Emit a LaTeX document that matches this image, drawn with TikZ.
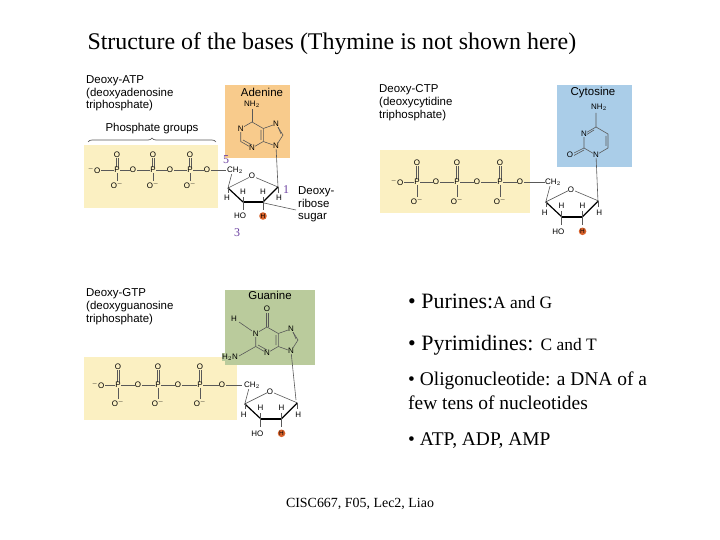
\documentclass[tikz,border=0pt]{standalone}
\usepackage{fontspec}
\setmainfont{Liberation Serif}
\newfontfamily\chem{Liberation Sans}
\usetikzlibrary{decorations.pathreplacing}
\definecolor{phosbg}{HTML}{FBF0C2}
\definecolor{adebg}{HTML}{F8CB8C}
\definecolor{cytbg}{HTML}{AACDE8}
\definecolor{guabg}{HTML}{BACB9C}
\definecolor{hred}{HTML}{D9622B}
\definecolor{numcol}{HTML}{6A3FA0}
\tikzset{
  atom/.style={font=\chem\fontsize{8}{8}\selectfont, inner sep=0.4pt},
  patom/.style={atom, fill=phosbg},
  label/.style={font=\chem\fontsize{11.5}{13}\selectfont, align=left, anchor=north west, inner sep=0pt},
  bond/.style={line width=0.6pt, gray!70!black},
  bullet/.style={anchor=west, inner sep=0pt, align=left},
}
% one phosphate: P with =O above and O- below
\newcommand{\phosgroup}[3]{%
  \draw[bond] (#1-1,#2) -- (#1-1,#2-#3) (#1+1,#2) -- (#1+1,#2-#3) (#1,#2) -- (#1,#2+#3);
  \node[patom] at (#1,#2) {P};
  \node[patom] at (#1,#2-#3) {O};
  \node[patom] at (#1,#2+#3) {O$^{-}$};
}
% deoxyribose ring, origin at CH2
\newcommand{\sugarring}{%
  \draw[bond] (0,3) -- (-4,18) -- (20,6) -- (46,17);
  \draw[bond, line width=1.2pt, black] (46,17) -- (31,32);
  \draw[line width=2.2pt] (31,32) -- (11,32);
  \draw[bond, line width=1.2pt, black] (11,32) -- (-4,18);
  \draw[bond] (-4,18) -- (-4,23) (46,17) -- (46,23) (11,32) -- (11,27) (31,32) -- (31,27)
    (11,32) -- (11,40) (31,32) -- (31,40);
  \node[atom, fill=white] (ringO) at (20,6) {O};
  \node[atom] at (-5,28) {H};
  \node[atom] at (11,22) {H};
  \node[atom] at (31,22) {H};
  \node[atom] at (47,28) {H};
  \node[atom] (OH) at (8,46) {HO};
  \node[circle, fill=hred, inner sep=0.4pt, font=\chem\fontsize{6.5}{6}\selectfont] (Hred) at (31,46) {H};
}
% purine skeleton, origin at centre of six-ring
\newcommand{\purine}{%
  \draw[bond] (0,-13) -- (11.3,-6.5) -- (11.3,6.5) -- (0,13) -- (-11.3,6.5) -- (-11.3,-6.5) -- cycle;
  \draw[bond] (11.3,-6.5) -- (24,-11) -- (31,0) -- (24,11) -- (11.3,6.5);
  \draw[bond] (9,-5) -- (9,5) (-9,5) -- (0,10) (26,-8) -- (29,-1);
}
\begin{document}
\begin{tikzpicture}[x=1bp, y=-1bp]
\useasboundingbox (0,0) rectangle (720,540);
% title
\node[anchor=west, font=\fontsize{24}{26}\selectfont] (title) at (84,44) {Structure of the bases (Thymine is not shown here)};

% ---------- deoxy-ATP ----------
\fill[phosbg] (84,145) rectangle (218,208);
\fill[adebg] (225,85) rectangle (290,158);
\node[label] (atp) at (86,75) {Deoxy-ATP\\(deoxyadenosine\\triphosphate)};
\node[font=\chem\fontsize{11.5}{13}\selectfont] (pgroups) at (152,129) {Phosphate groups};
\draw[gray!70!black, line width=0.7pt, decorate, decoration={brace, amplitude=4pt}] (88,142) -- (216,142);
\draw[bond] (95,170) -- (226,170);
\foreach \xp in {117,153,190} {\phosgroup{\xp}{170}{15}}
\foreach \xo in {133,170,207} {\node[patom] at (\xo,170) {O};}
\node[patom] at (94,170) {$^{-}$O};
\begin{scope}[shift={(232,170)}]
  \sugarring
\end{scope}
\node[atom, fill=white] (ch2a) at (235,170) {CH$_2$};
\begin{scope}[shift={(252,135)}]
  \purine
  \draw[bond] (0,-13) -- (0,-26);
  \draw[bond] (24,11) -- (26,52);
  \node[atom, fill=adebg] at (-11.3,-6.5) {N};
  \node[atom, fill=adebg] at (0,13) {N};
  \node[atom, fill=adebg] at (24,-11) {N};
  \node[atom, fill=adebg] at (24,11) {N};
  \node[atom] at (0,-31) {NH$_2$};
  \node[font=\chem\fontsize{11.5}{13}\selectfont] (ade) at (10,-43) {Adenine};
\end{scope}
\node[text=numcol, font=\fontsize{12}{12}\selectfont] (n5) at (226,160) {5};
\node[text=numcol, font=\fontsize{12}{12}\selectfont] (n1) at (286,190) {1};
\node[text=numcol, font=\fontsize{12}{12}\selectfont] (n3) at (237,233) {3};
\node[label] (dsug) at (298,186) {Deoxy-\\ribose\\sugar};
\draw[bond] (264,203) -- (296,210);

% ---------- deoxy-CTP ----------
\fill[phosbg] (380,150) rectangle (530,213);
\fill[cytbg] (557,85) rectangle (632,167);
\node[label] (ctp) at (379,84) {Deoxy-CTP\\(deoxycytidine\\triphosphate)};
\draw[bond] (399,182) -- (545,182);
\foreach \xp in {417,457,500} {\phosgroup{\xp}{182}{19}}
\foreach \xo in {436,477,520} {\node[patom] at (\xo,182) {O};}
\node[patom] at (397,182) {$^{-}$O};
\begin{scope}[shift={(550,183)}, scale=1.05]
  \sugarring
\end{scope}
\node[atom, fill=white] (ch2c) at (553,182) {CH$_2$};
\begin{scope}[shift={(596,141)}]
  \draw[bond] (0,-14) -- (12,-7) -- (12,7) -- (0,14) -- (-12,7) -- (-12,-7) -- cycle;
  \draw[bond] (-10,-6) -- (-2,-11) (10,-5) -- (10,5) (-12,7) -- (-24,13) (-12,9) -- (-23,15);
  \draw[bond] (0,-14) -- (0,-28) (0,14) -- (2,61);
  \node[atom, fill=cytbg] at (-12,-7) {N};
  \node[atom, fill=cytbg] at (0,14) {N};
  \node[atom, fill=cytbg] at (-26,14) {O};
  \node[atom] at (3,-34) {NH$_2$};
  \node[font=\chem\fontsize{11.5}{13}\selectfont] (cyt) at (-3,-48) {Cytosine};
\end{scope}

% ---------- deoxy-GTP ----------
\fill[phosbg] (84,357) rectangle (237,420);
\fill[guabg] (225,290) rectangle (315,365);
\node[label] (gtp) at (86,288) {Deoxy-GTP\\(deoxyguanosine\\triphosphate)};
\draw[bond] (100,385) -- (242,385);
\foreach \xp in {118,158,200} {\phosgroup{\xp}{385}{18}}
\foreach \xo in {138,178,222} {\node[patom] at (\xo,385) {O};}
\node[patom] at (98,385) {$^{-}$O};
\begin{scope}[shift={(249,385)}, scale=1.05]
  \sugarring
\end{scope}
\node[atom, fill=white] (ch2g) at (252,385) {CH$_2$};
\begin{scope}[shift={(267,340)}]
  \purine
  \draw[bond] (-1,-13) -- (-1,-27) (1,-13) -- (1,-27);
  \draw[bond] (-11.3,-6.5) -- (-28,-18) (-11.3,6.5) -- (-28,16);
  \draw[bond] (24,11) -- (29,60);
  \node[atom, fill=guabg] at (-11.3,-6.5) {N};
  \node[atom, fill=guabg] at (0,13) {N};
  \node[atom, fill=guabg] at (24,-11) {N};
  \node[atom, fill=guabg] at (24,11) {N};
  \node[atom, fill=guabg] at (-33,-21) {H};
  \node[atom, fill=guabg] at (-37,17) {H$_2$N};
  \node[atom] at (0,-31) {O};
  \node[font=\chem\fontsize{11.5}{13}\selectfont] (gua) at (3,-45) {Guanine};
\end{scope}

% ---------- bullets ----------
\node[bullet, font=\fontsize{22}{24}\selectfont] (pur) at (408,301) {\textbullet\ Purines:{\fontsize{17.5}{20}\selectfont A and G}};
\node[bullet, font=\fontsize{22}{24}\selectfont] (pyr) at (408,345) {\textbullet\ Pyrimidines: {\fontsize{17.5}{20}\selectfont C and T}};
\node[bullet, font=\fontsize{19.5}{24}\selectfont, anchor=north west] (oligo) at (408,372) {\textbullet\ Oligonucleotide: a DNA of a\\few tens of nucleotides};
\node[bullet, font=\fontsize{19.5}{22}\selectfont] (atpx) at (408,441) {\textbullet\ ATP, ADP, AMP};
\node[font=\fontsize{14}{16}\selectfont] (foot) at (360,504) {CISC667, F05, Lec2, Liao};
\end{tikzpicture}
\end{document}
